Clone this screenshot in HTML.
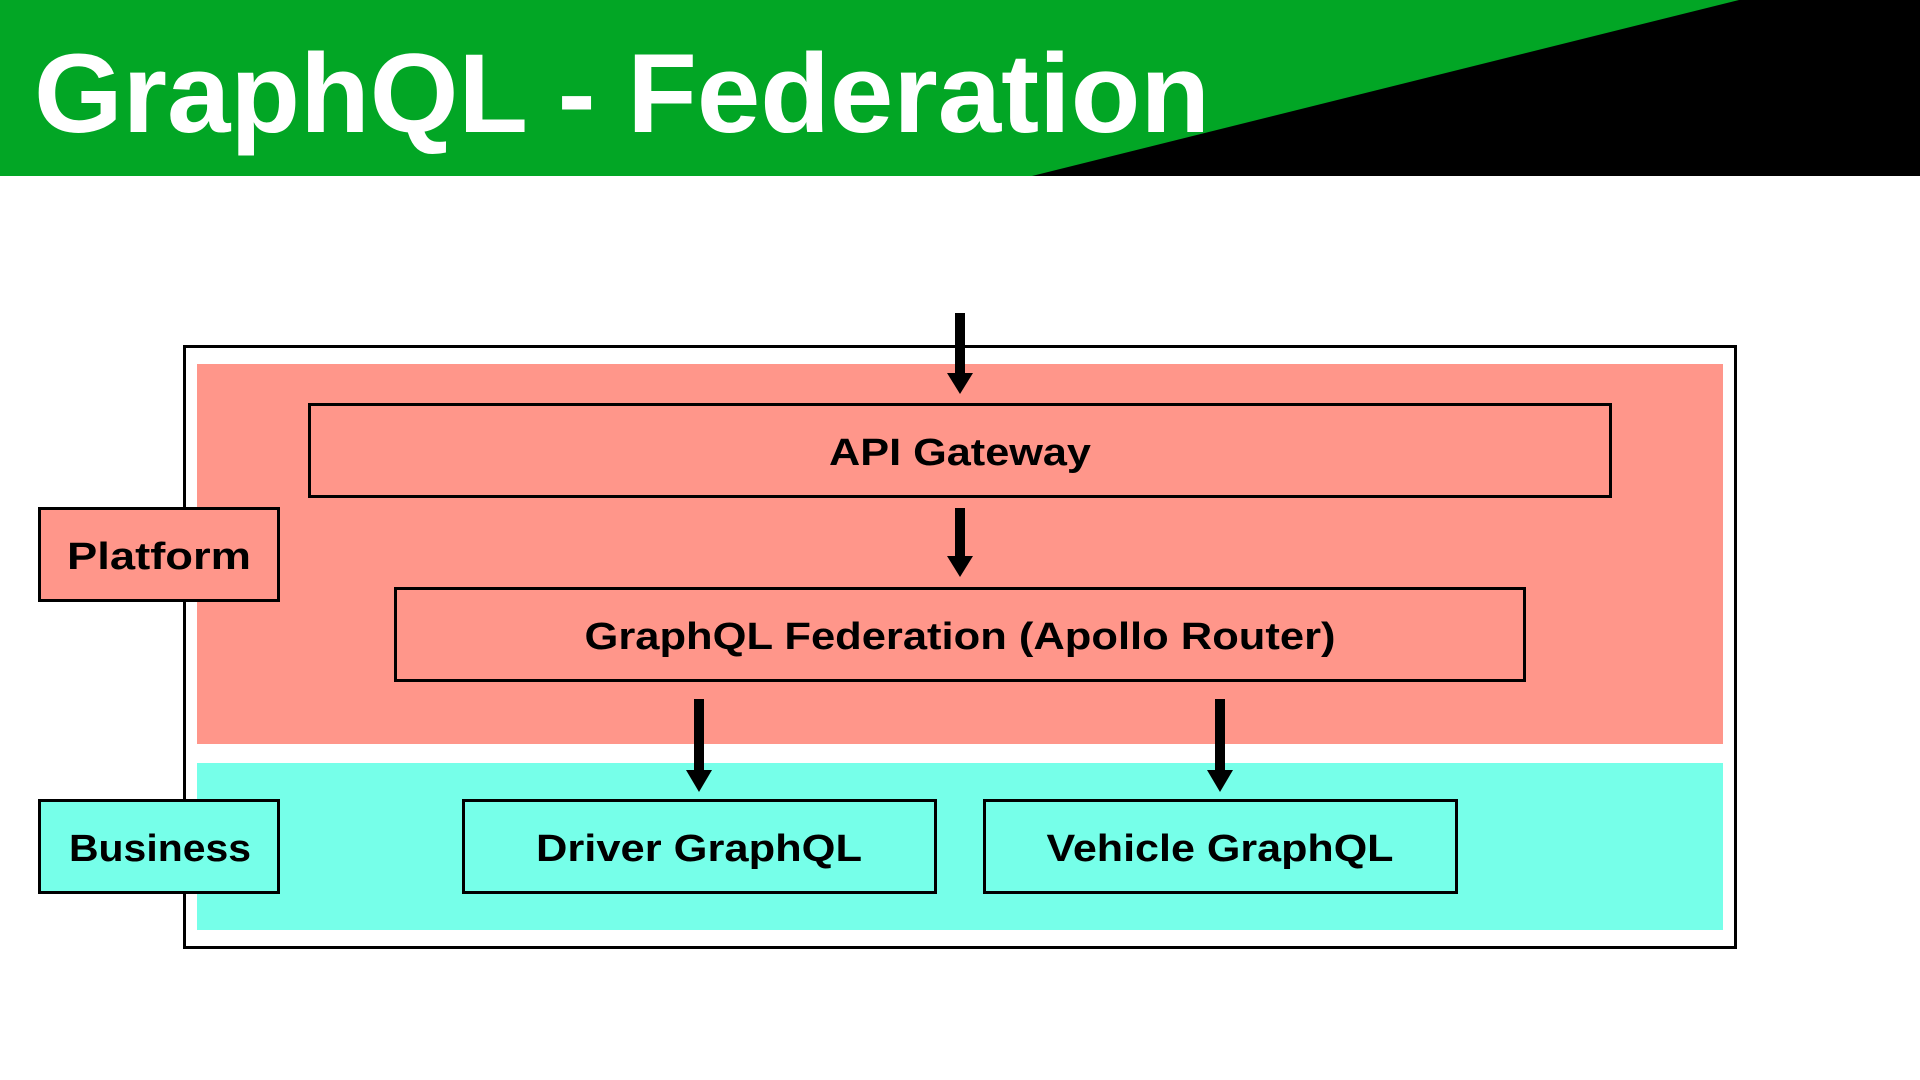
<!DOCTYPE html>
<html><head><meta charset="utf-8"><style>html,body{margin:0;padding:0;background:#fff}svg{display:block}</style></head>
<body>
<svg width="1920" height="1080" viewBox="0 0 1920 1080" xmlns="http://www.w3.org/2000/svg" font-family="'Liberation Sans', sans-serif" font-weight="bold">
<rect x="0" y="0" width="1920" height="176" fill="#02A625"/>
<polygon points="1032,176 1739,0 1920,0 1920,176" fill="#000"/>
<text x="34" y="132" font-size="112" fill="#fff" textLength="1176" lengthAdjust="spacingAndGlyphs">GraphQL - Federation</text>

<rect x="184.5" y="346.5" width="1551" height="601" fill="#fff" stroke="#000" stroke-width="3"/>
<rect x="197" y="364" width="1526" height="380" fill="#FF968A"/>
<rect x="197" y="763" width="1526" height="167" fill="#76FFE9"/>

<rect x="309.5" y="404.5" width="1301" height="92" fill="#FF968A" stroke="#000" stroke-width="3"/>
<text x="960" y="465" font-size="38" text-anchor="middle" textLength="262" lengthAdjust="spacingAndGlyphs">API Gateway</text>
<rect x="395.5" y="588.5" width="1129" height="92" fill="#FF968A" stroke="#000" stroke-width="3"/>
<text x="960" y="649" font-size="38" text-anchor="middle" textLength="751" lengthAdjust="spacingAndGlyphs">GraphQL Federation (Apollo Router)</text>

<rect x="39.5" y="508.5" width="239" height="92" fill="#FF968A" stroke="#000" stroke-width="3"/>
<text x="159" y="569" font-size="38" text-anchor="middle" textLength="184" lengthAdjust="spacingAndGlyphs">Platform</text>
<rect x="39.5" y="800.5" width="239" height="92" fill="#76FFE9" stroke="#000" stroke-width="3"/>
<text x="160" y="861" font-size="38" text-anchor="middle" textLength="182" lengthAdjust="spacingAndGlyphs">Business</text>

<rect x="463.5" y="800.5" width="472" height="92" fill="#76FFE9" stroke="#000" stroke-width="3"/>
<text x="699" y="861" font-size="38" text-anchor="middle" textLength="326" lengthAdjust="spacingAndGlyphs">Driver GraphQL</text>
<rect x="984.5" y="800.5" width="472" height="92" fill="#76FFE9" stroke="#000" stroke-width="3"/>
<text x="1220" y="861" font-size="38" text-anchor="middle" textLength="347" lengthAdjust="spacingAndGlyphs">Vehicle GraphQL</text>

<g fill="#000">
<rect x="955" y="313" width="10" height="62"/><polygon points="947,373 973,373 960,394"/>
<rect x="955" y="508" width="10" height="50"/><polygon points="947,556 973,556 960,577"/>
<rect x="694" y="699" width="10" height="72"/><polygon points="686,770 712,770 699,792"/>
<rect x="1215" y="699" width="10" height="72"/><polygon points="1207,770 1233,770 1220,792"/>
</g>
</svg>
</body></html>
